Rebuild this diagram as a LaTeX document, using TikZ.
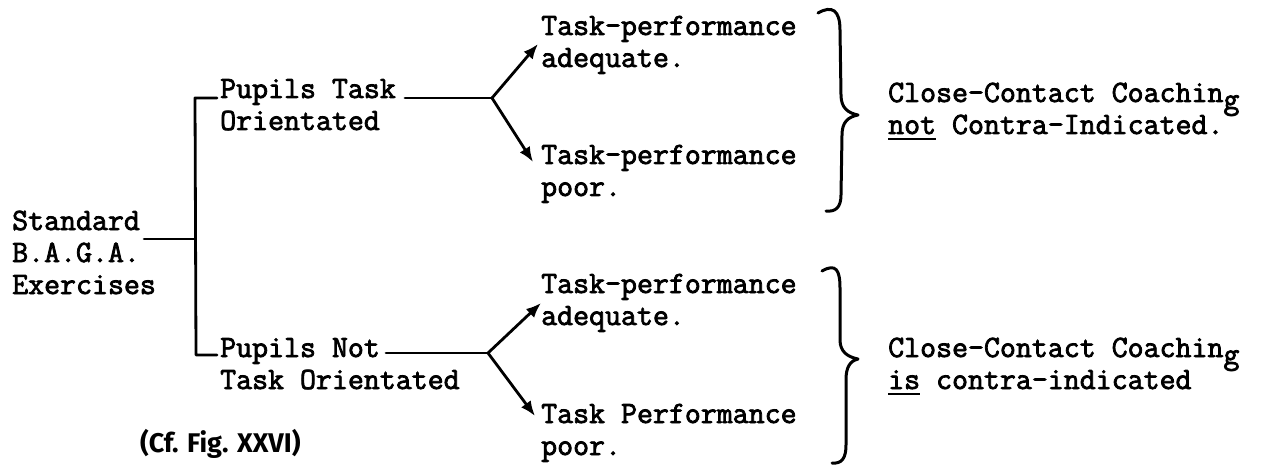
\documentclass[tikz,border=0pt]{standalone}
\usepackage{fontspec}
\usetikzlibrary{arrows.meta}
\newfontfamily\tw[FakeBold=2.5]{Latin Modern Mono}
\newfontfamily\hand{Fira Sans}
\newcommand\myul[1]{\setbox0\hbox{#1}\rlap{\rule[-6pt]{\wd0}{2pt}}\box0\relax}
\newcommand\lowg{\raisebox{-7pt}{g}}
\tikzset{
  txt/.style={anchor=base west, inner sep=0pt, font=\tw\fontsize{31}{32}\selectfont},
  conn/.style={line width=2.8pt, line cap=round, line join=round},
  arr/.style={conn, -{Latex[length=15pt,width=12pt]}},
  bracestyle/.style={line width=3pt, line cap=round, line join=round}
}
\begin{document}
\begin{tikzpicture}[x=1pt,y=-1pt]
\useasboundingbox (0,0) rectangle (1275,468);
% left block
\node[txt] (std1) at (12,230) {Standard};
\node[txt] (std2) at (12,262) {B.A.G.A.};
\node[txt] (std3) at (12,294) {Exercises};
% upper branch
\node[txt] (p1a) at (220,98) {Pupils Task};
\node[txt] (p1b) at (220,130) {Orientated};
\node[txt] (t1a) at (541,35) {Task-performance};
\node[txt] (t1b) at (541,67) {adequate.};
\node[txt] (t2a) at (541,164) {Task-performance};
\node[txt] (t2b) at (541,196) {poor.};
% lower branch
\node[txt] (p2a) at (220,357) {Pupils Not};
\node[txt] (p2b) at (220,389) {Task Orientated};
\node[txt] (t3a) at (541,293) {Task-performance};
\node[txt] (t3b) at (541,325) {adequate.};
\node[txt] (t4a) at (541,423) {Task Performance};
\node[txt] (t4b) at (541,455) {poor.};
% right texts
\node[txt] (c1a) at (888,102) {Close-Contact Coachin\lowg};
\node[txt] (c1b) at (888,134) {\myul{not} Contra-Indicated.};
\node[txt] (c2a) at (888,357) {Close-Contact Coachin\lowg};
\node[txt] (c2b) at (888,389) {\myul{is} contra-indicated};
% note
\node[anchor=base west, inner sep=0pt, font=\hand\bfseries\fontsize{27}{28}\selectfont] (cf) at (140,452) {(Cf. Fig. XXVI)};
% coordinates
\coordinate (js) at (195,239);
\coordinate (jt) at (195,98);
\coordinate (jb) at (196,355);
\coordinate (f1) at (492,98);
\coordinate (f2) at (488,353);
\coordinate (a1) at (538,44);
\coordinate (a2) at (533,162);
\coordinate (a3) at (541,303);
\coordinate (a4) at (535,416);
% tree
\draw[conn] (std1.base east |- js) ++(4,0) -- (js);
\draw[conn] (p1a.base west) ++(-3,0) -- (jt) -- (jb) -- ([xshift=-3pt]p2a.base west |- jb);
\draw[conn] ([xshift=9pt]p1a.base east |- f1) -- (f1);
\draw[conn] ([xshift=6pt]p2a.base east |- f2) -- (f2);
\draw[arr] (f1) -- (a1);
\draw[arr] (f1) -- (a2);
\draw[arr] (f2) -- (a3);
\draw[arr] (f2) -- (a4);
% braces
\draw[bracestyle] (818,13) .. controls (832,5) and (840,10) .. (840,30) -- (841,95) .. controls (841,108) and (848,113) .. (858,115) .. controls (848,117) and (842,122) .. (842,135) -- (841,195) .. controls (841,208) and (835,212) .. (826,211);
\draw[bracestyle] (822,271) .. controls (836,263) and (840,270) .. (840,288) -- (840,340) .. controls (840,352) and (848,357) .. (858,359) .. controls (850,361) and (846,367) .. (846,380) -- (846,445) .. controls (846,458) and (842,464) .. (832,463);
\end{tikzpicture}
\end{document}
